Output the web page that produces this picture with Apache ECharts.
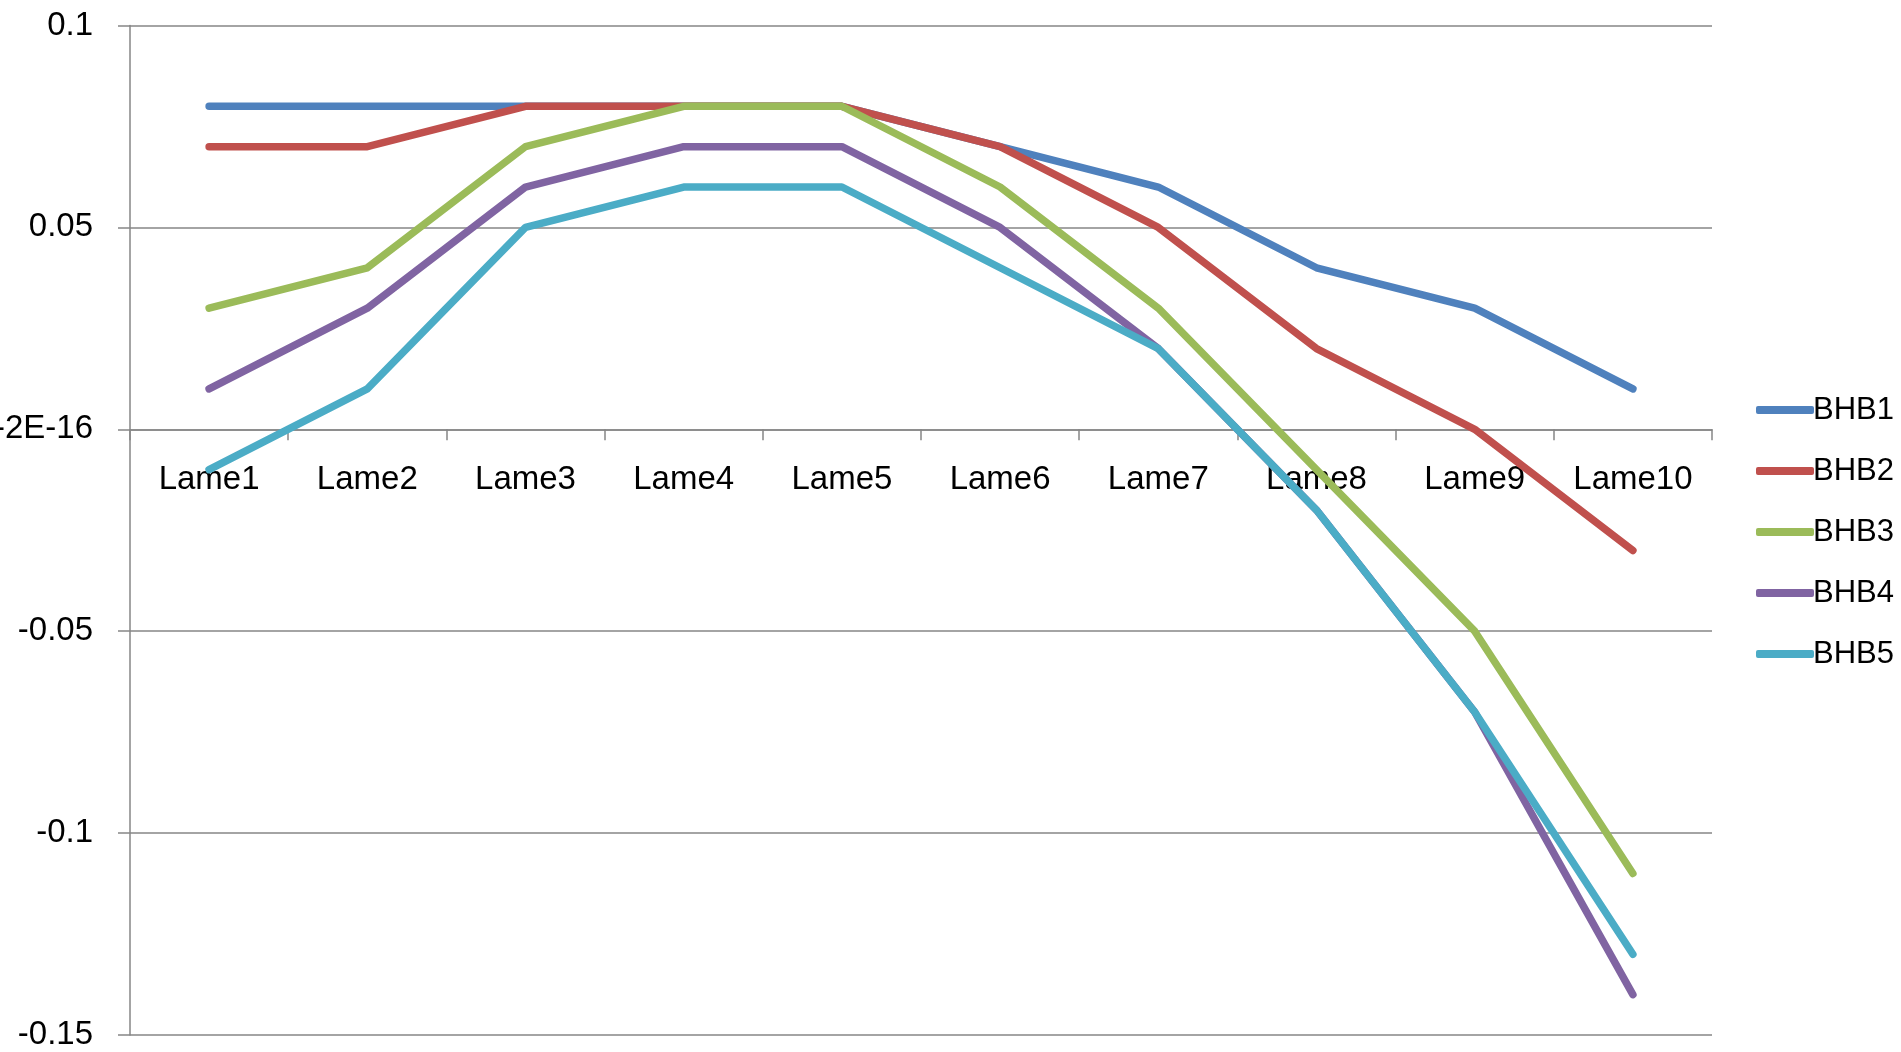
<!DOCTYPE html>
<html>
<head>
<meta charset="utf-8">
<style>
html,body{margin:0;padding:0;background:#fff;}
#chart{width:1901px;height:1052px;}
</style>
<script src="https://cdn.jsdelivr.net/npm/echarts@6/dist/echarts.min.js"></script>
</head>
<body>
<div id="chart"></div>
<script>
var categories = ['Lame1','Lame2','Lame3','Lame4','Lame5','Lame6','Lame7','Lame8','Lame9','Lame10'];
var seriesNames = ['BHB1','BHB2','BHB3','BHB4','BHB5'];
var bhb1 = [0.08, 0.08, 0.08, 0.08, 0.08, 0.07, 0.06, 0.04, 0.03, 0.01];
var bhb2 = [0.07, 0.07, 0.08, 0.08, 0.08, 0.07, 0.05, 0.02, 0.00, -0.03];
var bhb3 = [0.03, 0.04, 0.07, 0.08, 0.08, 0.06, 0.03, -0.01, -0.05, -0.11];
var bhb4 = [0.01, 0.03, 0.06, 0.07, 0.07, 0.05, 0.02, -0.02, -0.07, -0.14];
var bhb5 = [-0.01, 0.01, 0.05, 0.06, 0.06, 0.04, 0.02, -0.02, -0.07, -0.13];
var yMin = -0.15, yMax = 0.1, yStep = 0.05;
var yTickValues = [-0.15, -0.1, -0.05, 0, 0.05, 0.1];
var yTickLabels = ['-0.15', '-0.1', '-0.05', '-2E-16', '0.05', '0.1'];

var colors = ['#4F81BD', '#C0504D', '#9BBB59', '#8064A2', '#4BACC6'];
var allData = [bhb1, bhb2, bhb3, bhb4, bhb5];
var fontFamily = '"Liberation Sans", Arial, sans-serif';
var gridColor = '#868686';
var gridTop = 25.5, gridBottom = 17, chartH = 1052;
var plotH = chartH - gridTop - gridBottom;
var zeroOffset = -plotH * (0 - yMin) / (yMax - yMin);

var chart = echarts.init(document.getElementById('chart'), null, {renderer: 'canvas'});
var series = seriesNames.map(function (name, i) {
  return {
    name: name,
    type: 'line',
    data: allData[i],
    symbol: 'none',
    showSymbol: false,
    smooth: false,
    lineStyle: {color: colors[i], width: 7.5, cap: 'round', join: 'round'},
    itemStyle: {color: colors[i]},
    emphasis: {disabled: true},
    animation: false
  };
});

chart.setOption({
  animation: false,
  color: colors,
  grid: {left: 130, right: 189, top: gridTop, bottom: gridBottom, containLabel: false, outerBoundsMode: 'none'},
  legend: {
    orient: 'vertical',
    left: 1751,
    top: 389.5,
    itemWidth: 58,
    itemHeight: 8,
    itemGap: 30,
    icon: 'roundRect',
    data: seriesNames,
    selectedMode: false,
    textStyle: {fontFamily: fontFamily, fontSize: 31, color: '#000', lineHeight: 31, padding: [0, 0, 0, -6]}
  },
  xAxis: {
    type: 'category',
    data: categories,
    boundaryGap: true,
    position: 'bottom',
    offset: zeroOffset,
    axisLine: {show: true, onZero: false, lineStyle: {color: gridColor, width: 1.5}},
    axisTick: {show: true, length: 11, inside: false, alignWithLabel: false, lineStyle: {color: gridColor, width: 1.5}},
    axisLabel: {show: true, hideOverlap: false, inside: false,
      fontFamily: fontFamily, fontSize: 33, color: '#000', margin: 34, interval: 0},
    splitLine: {show: false}
  },
  yAxis: {
    type: 'value',
    min: yMin,
    max: yMax,
    interval: yStep,
    axisLine: {show: true, lineStyle: {color: gridColor, width: 1.5}},
    axisTick: {show: true, length: 12, inside: false, lineStyle: {color: gridColor, width: 1.5}},
    axisLabel: {
      fontFamily: fontFamily, fontSize: 33, color: '#000', margin: 37,
      formatter: function (v) {
        for (var k = 0; k < yTickValues.length; k++) {
          if (Math.abs(v - yTickValues[k]) < 1e-9) return yTickLabels[k];
        }
        return '';
      }
    },
    splitLine: {show: true, lineStyle: {color: gridColor, width: 1.5}}
  },
  series: series
});
</script>
</body>
</html>
